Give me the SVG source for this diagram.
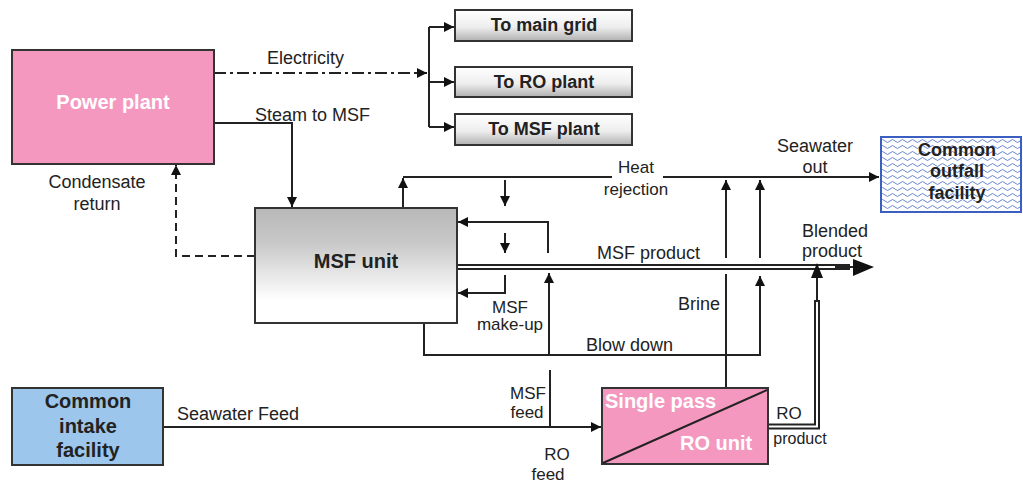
<svg xmlns="http://www.w3.org/2000/svg" width="1023" height="483" viewBox="0 0 1023 483">
<style>
text{font-family:"Liberation Sans",Arial,sans-serif;fill:#222}
.lbl{font-size:18px}
.sm{font-size:17px}
.b{font-weight:bold}
.w{fill:#fff}
.ln{fill:none;stroke:#222;stroke-width:2}
.box{stroke:#333;stroke-width:2}
</style>
<defs>
<marker id="ah" viewBox="0 0 10 10" refX="10" refY="5" markerWidth="10" markerHeight="10" markerUnits="userSpaceOnUse" orient="auto"><path d="M0,0 L10,5 L0,10 z" fill="#111"/></marker>
<linearGradient id="gMsf" x1="0" y1="0" x2="0" y2="1"><stop offset="0" stop-color="#b8b8b8"/><stop offset="0.3" stop-color="#c8c8c8"/><stop offset="0.8" stop-color="#ffffff"/><stop offset="1" stop-color="#ffffff"/></linearGradient>
<linearGradient id="gSmall" x1="0" y1="0" x2="0" y2="1"><stop offset="0" stop-color="#ffffff"/><stop offset="0.55" stop-color="#eeeeee"/><stop offset="1" stop-color="#b0b0b0"/></linearGradient>
<pattern id="waves" patternUnits="userSpaceOnUse" width="10" height="6"><rect width="10" height="6" fill="#fff"/><path d="M0,3 Q2.5,0 5,3 T10,3" fill="none" stroke="#5577c8" stroke-width="0.9"/></pattern>
</defs>
<rect width="1023" height="483" fill="#fff"/>

<g id="connectors">
<!-- electricity -->
<path class="ln" d="M214,73 H427" stroke-dasharray="12,4,3,4" marker-end="url(#ah)"/>
<path class="ln" d="M429,27 V127"/>
<path class="ln" d="M429,27 H454" marker-end="url(#ah)"/>
<path class="ln" d="M429,82 H454" marker-end="url(#ah)"/>
<path class="ln" d="M429,127 H454" marker-end="url(#ah)"/>
<!-- steam -->
<path class="ln" d="M214,123 H292 V207" marker-end="url(#ah)"/>
<!-- condensate -->
<path class="ln" d="M255,256 H176 V165" stroke-dasharray="8,5" marker-end="url(#ah)"/>
<!-- heat rejection -->
<path class="ln" d="M403,208 V178" marker-end="url(#ah)"/>
<path class="ln" d="M403,177 H612"/>
<path class="ln" d="M663,177 H879" marker-end="url(#ah)"/>
<path class="ln" d="M505,180 V206" marker-end="url(#ah)"/>
<path class="ln" d="M505,233 V253" marker-end="url(#ah)"/>
<path class="ln" d="M548,253 V222 H458" marker-end="url(#ah)"/>
<path class="ln" d="M505,275 V293 H458" marker-end="url(#ah)"/>
<!-- MSF product double line -->
<path class="ln" d="M458,265 H850" stroke-width="1.6"/>
<path class="ln" d="M458,269 H850" stroke-width="1.6"/>
<path class="ln" d="M835,267 H856" stroke-width="4"/>
<path d="M853,259 L874,267 L853,276 z" fill="#111"/>
<!-- brine -->
<path class="ln" d="M726,388 V274"/>
<path class="ln" d="M726,258 V180" marker-end="url(#ah)"/>
<!-- x=760 -->
<path class="ln" d="M760,258 V180" marker-end="url(#ah)"/>
<!-- blow down -->
<path class="ln" d="M424,323 V355 H761"/>
<path class="ln" d="M760,355 V276" marker-end="url(#ah)"/>
<path class="ln" d="M549,355 V273" marker-end="url(#ah)"/>
<!-- MSF feed -->
<path class="ln" d="M550,427 V370"/>
<!-- seawater feed -->
<path class="ln" d="M164,427 H601" marker-end="url(#ah)"/>
<!-- RO product -->
<path class="ln" d="M768,424.5 H815 V300" stroke-width="1.6"/>
<path class="ln" d="M768,428.5 H819 V300" stroke-width="1.6"/>
<path class="ln" d="M817,302 V276" stroke-width="4"/>
<path d="M811,278 L817,263 L823,278 z" fill="#111"/>
</g>

<g id="power-plant">
<rect class="box" x="12" y="50" width="202" height="114" fill="#f598c0"/>
<text class="b w" x="113" y="109" font-size="20" text-anchor="middle">Power plant</text>
</g>

<g id="to-main-grid">
<rect class="box" x="455" y="10" width="177" height="31" fill="url(#gSmall)"/>
<text class="lbl b" x="544" y="31" text-anchor="middle">To main grid</text>
</g>
<g id="to-ro-plant">
<rect class="box" x="455" y="67" width="177" height="30" fill="url(#gSmall)"/>
<text class="lbl b" x="544" y="88" text-anchor="middle">To RO plant</text>
</g>
<g id="to-msf-plant">
<rect class="box" x="455" y="114" width="177" height="31" fill="url(#gSmall)"/>
<text class="lbl b" x="544" y="135" text-anchor="middle">To MSF plant</text>
</g>

<g id="msf-unit">
<rect class="box" x="255" y="208" width="202" height="115" fill="url(#gMsf)"/>
<text class="b" x="356" y="268" font-size="20" text-anchor="middle">MSF unit</text>
</g>

<g id="outfall">
<rect x="881" y="137" width="140" height="75" fill="url(#waves)" stroke="#3a5fc0" stroke-width="2"/>
<text class="lbl b" x="957" y="156" text-anchor="middle">Common</text>
<text class="lbl b" x="957" y="177" text-anchor="middle">outfall</text>
<text class="lbl b" x="957" y="199" text-anchor="middle">facility</text>
</g>

<g id="intake">
<rect class="box" x="12" y="388" width="151" height="77" fill="#9dc6ec"/>
<text class="b" x="88" y="408" font-size="20" text-anchor="middle">Common</text>
<text class="b" x="88" y="433" font-size="20" text-anchor="middle">intake</text>
<text class="b" x="88" y="457" font-size="20" text-anchor="middle">facility</text>
</g>

<g id="ro-unit">
<rect class="box" x="602" y="388" width="166" height="76" fill="#f598c0"/>
<path d="M603,463 L767,390" stroke="#222" stroke-width="2"/>
<text class="b w" x="605" y="408" font-size="20">Single pass</text>
<text class="b w" x="680" y="450" font-size="20">RO unit</text>
</g>

<g id="labels">
<text class="lbl" x="267" y="64">Electricity</text>
<text class="lbl" x="255" y="121">Steam to MSF</text>
<text class="lbl" x="97" y="188" text-anchor="middle">Condensate</text>
<text class="lbl" x="97" y="210" text-anchor="middle">return</text>
<text class="sm" x="636" y="173" text-anchor="middle">Heat</text>
<text class="sm" x="636" y="195" text-anchor="middle">rejection</text>
<text class="lbl" x="815" y="152" text-anchor="middle">Seawater</text>
<text class="lbl" x="815" y="173" text-anchor="middle">out</text>
<text class="lbl" x="802" y="237">Blended</text>
<text class="lbl" x="802" y="257">product</text>
<text class="lbl" x="597" y="259">MSF product</text>
<text class="sm" x="510" y="313" text-anchor="middle">MSF</text>
<text class="sm" x="510" y="330" text-anchor="middle">make-up</text>
<text class="lbl" x="678" y="310">Brine</text>
<text class="lbl" x="586" y="351">Blow down</text>
<text class="sm" x="528" y="399" text-anchor="middle">MSF</text>
<text class="sm" x="527" y="418" text-anchor="middle">feed</text>
<text class="lbl" x="177" y="420">Seawater Feed</text>
<text class="sm" x="557" y="460" text-anchor="middle">RO</text>
<text class="sm" x="548" y="480" text-anchor="middle">feed</text>
<text class="sm" x="789" y="419" text-anchor="middle">RO</text>
<text x="800" y="444" font-size="16" text-anchor="middle">product</text>
</g>
</svg>
